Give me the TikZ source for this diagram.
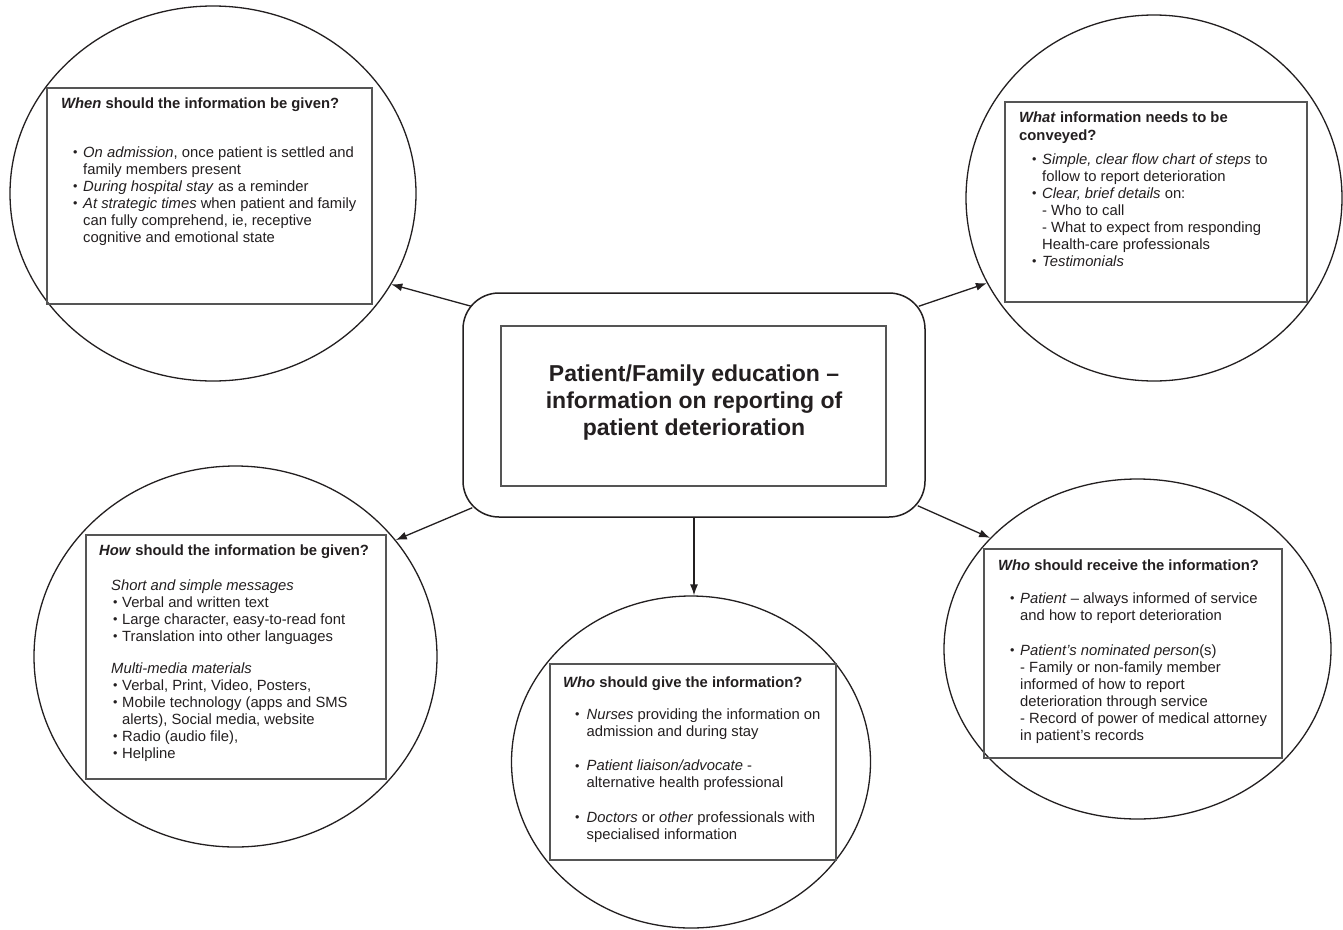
\documentclass[tikz,border=0pt]{standalone}
\usepackage{fontspec}
\usepackage{graphicx}
\setmainfont{Liberation Sans}
\usetikzlibrary{shapes.geometric,arrows.meta}
\definecolor{ink}{HTML}{231F20}
\definecolor{boxline}{HTML}{555555}
\newcommand{\bl}[1][10pt]{\makebox[#1][l]{\raisebox{0.6pt}{\scalebox{0.85}{•}}}}
\newcommand{\ct}[1][10pt]{\hspace*{#1}}
\begin{document}
\begin{tikzpicture}[x=1pt,y=-1pt,
  circ/.style={draw=ink, ellipse, line width=1.3pt, inner sep=0pt},
  panel/.style={draw=boxline, line width=1.1pt, inner sep=0pt},
  txt/.style={anchor=north west, inner sep=0pt, align=left, text=ink, font=\fontsize{14.8}{17}\selectfont},
  ttl/.style={anchor=north west, inner sep=0pt, align=left, text=ink, font=\fontsize{14.8}{18}\selectfont\bfseries},
  arr/.style={-{Latex[length=11pt,width=8pt]}, line width=1.3pt, draw=ink}]
\fill[white] (0,0) rectangle (1343,929);
\useasboundingbox (0,0) rectangle (1343,929);

% circles
\node[circ, minimum width=406pt, minimum height=375pt] (when) at (213,193.5) {};
\node[circ, minimum width=376pt, minimum height=366pt] (what) at (1154,198) {};
\node[circ, minimum width=403pt, minimum height=381pt] (how) at (235.5,656.5) {};
\node[circ, minimum width=359pt, minimum height=332pt] (give) at (691,762) {};
\node[circ, minimum width=387pt, minimum height=340pt] (recv) at (1137.5,649) {};

% inner panels
\node[panel, minimum width=325pt, minimum height=216pt] (whenbox) at (209.5,196) {};
\node[panel, minimum width=302pt, minimum height=200pt] (whatbox) at (1156,202) {};
\node[panel, minimum width=300pt, minimum height=244pt] (howbox) at (236,657) {};
\node[panel, minimum width=286pt, minimum height=196pt] (givebox) at (693,762) {};
\node[panel, minimum width=298pt, minimum height=209pt] (recvbox) at (1133,653.5) {};

% hub
\node[draw=ink, line width=1.5pt, rounded corners=36pt, minimum width=462pt, minimum height=224pt, inner sep=0pt] (hub) at (694,405) {};
\node[panel, minimum width=385pt, minimum height=160pt] (hubin) at (693.5,406) {};
\node[inner sep=0pt, align=center, text=ink, font=\fontsize{23}{27}\selectfont\bfseries] (hubtxt) at (694,403)
  {Patient/Family education –\\information on reporting of\\patient deterioration};

% When
\node[ttl] (whent) at (61,95) {\rule{0pt}{13pt}\textit{When} should the information be given?};
\node[txt] (whenl) at (73,144) {\rule{0pt}{13pt}\bl\textit{On admission}, once patient is settled and\\
\ct family members present\\
\bl\textit{During hospital stay} as a reminder\\
\bl\textit{At strategic times} when patient and family\\
\ct can fully comprehend, ie, receptive\\
\ct cognitive and emotional state};

% What
\node[ttl] (whatt) at (1019,109) {\rule{0pt}{13pt}\textit{What} information needs to be\\conveyed?};
\node[txt] (whatl) at (1032,151) {\rule{0pt}{13pt}\bl\textit{Simple, clear flow chart of steps} to\\
\ct follow to report deterioration\\
\bl\textit{Clear, brief details} on:\\
\ct - Who to call\\
\ct - What to expect from responding\\
\ct Health-care professionals\\
\bl\textit{Testimonials}};

% How
\node[ttl] (howt) at (99,542) {\rule{0pt}{13pt}\textit{How} should the information be given?};
\node[txt] (howl) at (111,577) {\rule{0pt}{13pt}\textit{Short and simple messages}\\
\hspace*{2pt}\bl[9pt]Verbal and written text\\
\hspace*{2pt}\bl[9pt]Large character, easy-to-read font\\
\hspace*{2pt}\bl[9pt]Translation into other languages\\[15pt]
\textit{Multi-media materials}\\
\hspace*{2pt}\bl[9pt]Verbal, Print, Video, Posters,\\
\hspace*{2pt}\bl[9pt]Mobile technology (apps and SMS\\
\hspace*{2pt}\ct[9pt]alerts), Social media, website\\
\hspace*{2pt}\bl[9pt]Radio (audio file),\\
\hspace*{2pt}\bl[9pt]Helpline};

% Who give
\node[ttl] (givet) at (563,674) {\rule{0pt}{13pt}\textit{Who} should give the information?};
\node[txt] (givel) at (575,706) {\rule{0pt}{13pt}\bl[11.5pt]\textit{Nurses} providing the information on\\
\ct[11.5pt]admission and during stay\\[17.5pt]
\bl[11.5pt]\textit{Patient liaison/advocate} -\\
\ct[11.5pt]alternative health professional\\[17.5pt]
\bl[11.5pt]\textit{Doctors} or \textit{other} professionals with\\
\ct[11.5pt]specialised information};

% Who receive
\node[ttl] (recvt) at (998,557) {\rule{0pt}{13pt}\textit{Who} should receive the information?};
\node[txt] (recvl) at (1010,590) {\rule{0pt}{13pt}\bl\textit{Patient} – always informed of service\\
\ct and how to report deterioration\\[18pt]
\bl\textit{Patient’s nominated person}(s)\\
\ct - Family or non-family member\\
\ct informed of how to report\\
\ct deterioration through service\\
\ct - Record of power of medical attorney\\
\ct in patient’s records};

% connectors
\draw[arr] ([shift={(9,14)}]hub.north west) -- (when.-27.7);
\draw[arr] ([shift={(-7,14)}]hub.north east) -- (what.207);
\draw[arr] ([shift={(10,-10)}]hub.south west) -- (how.36.9);
\draw[arr] ([shift={(-8,-12)}]hub.south east) -- (recv.143.7);
\draw[arr] (hub.south) -- (hub.south |- give.north);
\end{tikzpicture}
\end{document}
